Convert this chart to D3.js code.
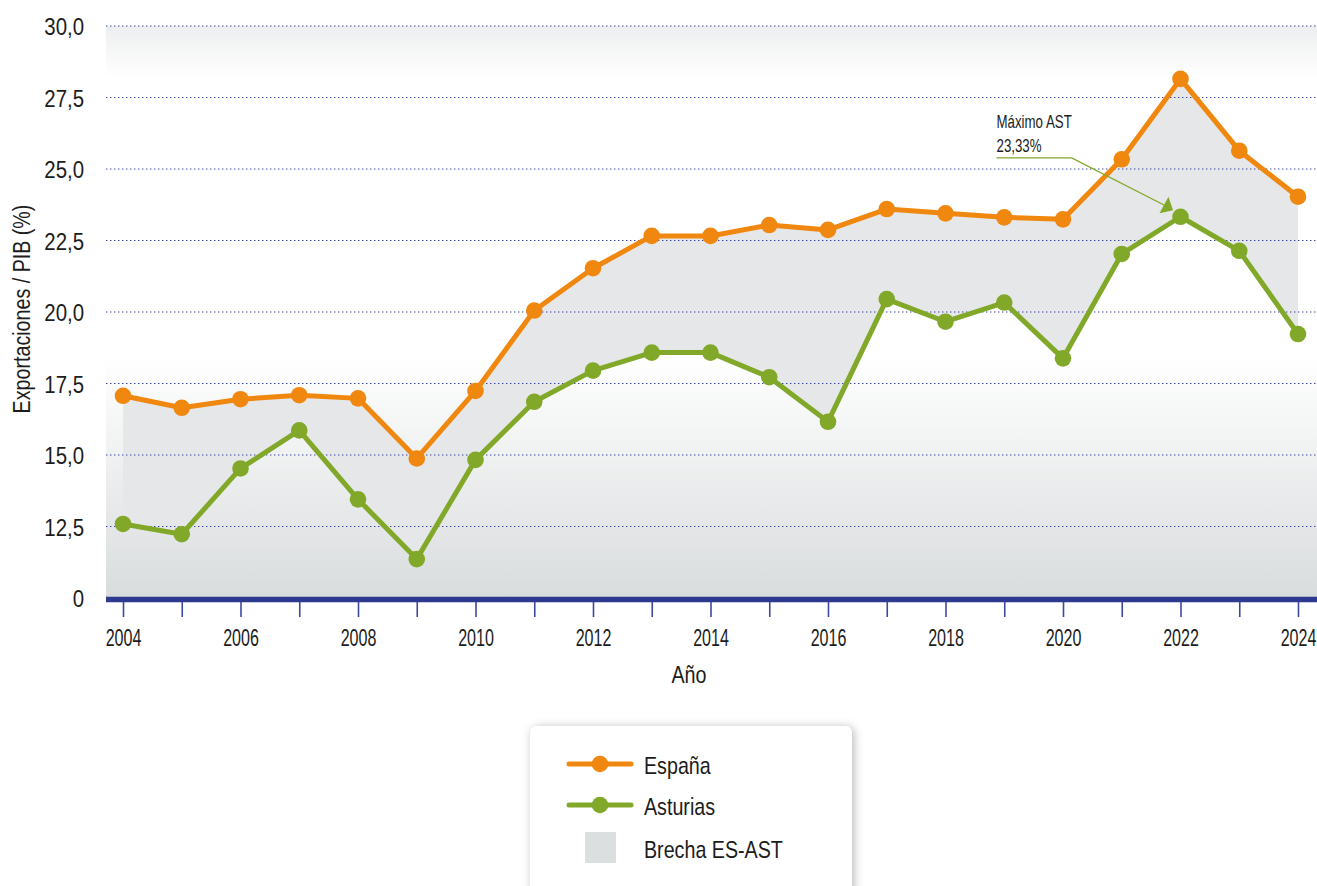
<!DOCTYPE html>
<html>
<head>
<meta charset="utf-8">
<script src="https://cdn.jsdelivr.net/npm/d3@7"></script>
<style>
  html, body { margin: 0; padding: 0; background: #ffffff; }
  svg { display: block; }
  text { font-family: "Liberation Sans", Arial, sans-serif; fill: #1c1c1c; }
</style>
</head>
<body>
<svg id="chart" width="1317" height="886"></svg>
<script>
// ---- Data ----
const years = [2004, 2005, 2006, 2007, 2008, 2009, 2010, 2011, 2012, 2013, 2014, 2015, 2016, 2017, 2018, 2019, 2020, 2021, 2022, 2023, 2024];
const espana = [17.07, 16.65, 16.95, 17.09, 16.98, 14.88, 17.24, 20.05, 21.53, 22.66, 22.66, 23.04, 22.87, 23.60, 23.45, 23.31, 23.24, 25.34, 28.15, 25.64, 24.03];
const asturias = [12.59, 12.23, 14.53, 15.86, 13.45, 11.36, 14.83, 16.86, 17.95, 18.58, 18.58, 17.72, 16.16, 20.45, 19.66, 20.33, 18.38, 22.03, 23.33, 22.14, 19.23];
const yTickValues = [10, 12.5, 15, 17.5, 20, 22.5, 25, 27.5, 30];
const yTickLabels = ["0", "12,5", "15,0", "17,5", "20,0", "22,5", "25,0", "27,5", "30,0"];
const xLabelYears = [2004, 2006, 2008, 2010, 2012, 2014, 2016, 2018, 2020, 2022, 2024];
const seriesNames = ["España", "Asturias", "Brecha ES-AST"];
const annotationLines = ["Máximo AST", "23,33%"];
const annotationYear = 2022;
const annotationValue = 23.33;

// ---- Layout ----
const plotLeft = 106, plotRight = 1317, plotTop = 26, plotBottom = 598;
const ORANGE = "#f0870f", GREEN = "#82a82a", NAVY = "#2e3990";
const SQ = 0.67;   // squeeze for condensed x tick labels
const SY = 0.85;   // squeeze for y tick labels
const SN = 0.82;   // squeeze for narrow labels

const svg = d3.select("#chart");
const x = d3.scaleLinear().domain([2004, 2024]).range([123, 1298]);
const y = d3.scaleLinear().domain([10, 30]).range([plotBottom, plotTop]);

const defs = svg.append("defs");
const grad = defs.append("linearGradient").attr("id", "bg").attr("x1", 0).attr("y1", 0).attr("x2", 0).attr("y2", 1);
[["0%", "#edeeef"], ["9%", "#ffffff"], ["58%", "#ffffff"], ["100%", "#d9dcdd"]].forEach(s =>
  grad.append("stop").attr("offset", s[0]).attr("stop-color", s[1]));
const flt = defs.append("filter").attr("id", "shadow").attr("x", "-20%").attr("y", "-20%").attr("width", "140%").attr("height", "140%");
flt.append("feDropShadow").attr("dx", 2).attr("dy", 1).attr("stdDeviation", 5).attr("flood-color", "#000").attr("flood-opacity", 0.28);

// background
svg.append("rect").attr("x", plotLeft).attr("y", plotTop).attr("width", plotRight - plotLeft).attr("height", plotBottom - plotTop).attr("fill", "url(#bg)");

// gap area
const pts = years.map((yr, i) => ({ yr, es: espana[i], as: asturias[i] }));
svg.append("path").datum(pts)
  .attr("d", d3.area().x(d => x(d.yr)).y0(d => y(d.as)).y1(d => y(d.es)))
  .attr("fill", "#e6e7e9");

// grid lines
svg.append("g").selectAll("line").data(yTickValues.slice(1)).join("line")
  .attr("x1", plotLeft).attr("x2", plotRight)
  .attr("y1", d => y(d)).attr("y2", d => y(d))
  .attr("stroke", "#3a43a0").attr("stroke-width", 1.1).attr("stroke-dasharray", "1.4,2.6");

// lines
const lineGen = key => d3.line().x(d => x(d.yr)).y(d => y(d[key]));
svg.append("path").datum(pts).attr("d", lineGen("es")).attr("fill", "none").attr("stroke", ORANGE).attr("stroke-width", 5).attr("stroke-linejoin", "round");
svg.append("path").datum(pts).attr("d", lineGen("as")).attr("fill", "none").attr("stroke", GREEN).attr("stroke-width", 5).attr("stroke-linejoin", "round");
svg.append("g").selectAll("circle").data(pts).join("circle").attr("cx", d => x(d.yr)).attr("cy", d => y(d.es)).attr("r", 8.3).attr("fill", ORANGE);
svg.append("g").selectAll("circle").data(pts).join("circle").attr("cx", d => x(d.yr)).attr("cy", d => y(d.as)).attr("r", 8.3).attr("fill", GREEN);

// x axis
svg.append("line").attr("x1", plotLeft).attr("x2", plotRight).attr("y1", plotBottom + 1.5).attr("y2", plotBottom + 1.5).attr("stroke", NAVY).attr("stroke-width", 5.5);
const xAxis = svg.append("g").attr("transform", `translate(0,${plotBottom + 4})`)
  .call(d3.axisBottom(x).tickValues(years).tickSize(15).tickPadding(12)
    .tickFormat(d => xLabelYears.includes(d) ? String(d) : ""));
xAxis.select(".domain").remove();
xAxis.selectAll(".tick line").attr("stroke", "#3c49a0").attr("stroke-width", 1.6);
xAxis.selectAll(".tick text").attr("font-size", 24).attr("font-family", "Liberation Sans").attr("fill", "#1c1c1c").attr("transform", `scale(${SQ},1)`);

// y axis labels
const yAxis = svg.append("g").attr("transform", "translate(84,0)")
  .call(d3.axisLeft(y).tickValues(yTickValues).tickSize(0).tickPadding(0)
    .tickFormat((d, i) => yTickLabels[i]));
yAxis.select(".domain").remove();
yAxis.selectAll(".tick text").attr("font-size", 24).attr("font-family", "Liberation Sans").attr("fill", "#1c1c1c").attr("dy", "0.36em").attr("x", 0).attr("transform", `scale(${SY},1)`);

// axis titles
svg.append("text").attr("transform", `translate(689,683) scale(${SN},1)`).attr("text-anchor", "middle").attr("font-size", 24).text("Año");
svg.append("text").attr("transform", `translate(30,309) rotate(-90) scale(${SN},1)`).attr("text-anchor", "middle").attr("font-size", 24).text("Exportaciones / PIB (%)");

// annotation
const ax = x(annotationYear), ay = y(annotationValue);
const ann = svg.append("g");
annotationLines.forEach((t, i) => {
  ann.append("text").attr("transform", `translate(${ax - 184},${ay - 89 + i * 24}) scale(0.7,1)`).attr("font-size", 19).text(t);
});
ann.append("path").attr("d", `M${ax - 184},${ay - 58.8} H${ax - 108.8} L${ax - 16},${ay - 11.5}`).attr("fill", "none").attr("stroke", GREEN).attr("stroke-width", 1.3);
ann.append("path").attr("d", `M${ax - 12},${ay - 20} L${ax - 21},${ay - 3.5} L${ax - 7.5},${ay - 6.5} Z`).attr("fill", GREEN);

// legend
const lg = svg.append("g");
lg.append("rect").attr("x", 530).attr("y", 726).attr("width", 322).attr("height", 200).attr("rx", 7).attr("fill", "#ffffff").attr("filter", "url(#shadow)");
[[ORANGE, 764], [GREEN, 805]].forEach((c, i) => {
  lg.append("line").attr("x1", 569).attr("x2", 631).attr("y1", c[1]).attr("y2", c[1]).attr("stroke", c[0]).attr("stroke-width", 5).attr("stroke-linecap", "round");
  lg.append("circle").attr("cx", 600).attr("cy", c[1]).attr("r", 8.3).attr("fill", c[0]);
  lg.append("text").attr("transform", `translate(644,${c[1] + 10}) scale(${SN},1)`).attr("font-size", 24).text(seriesNames[i]);
});
lg.append("rect").attr("x", 585).attr("y", 832).attr("width", 31).attr("height", 31).attr("fill", "#dcdfe0");
lg.append("text").attr("transform", `translate(644,858) scale(${SN},1)`).attr("font-size", 24).text(seriesNames[2]);
</script>
</body>
</html>
